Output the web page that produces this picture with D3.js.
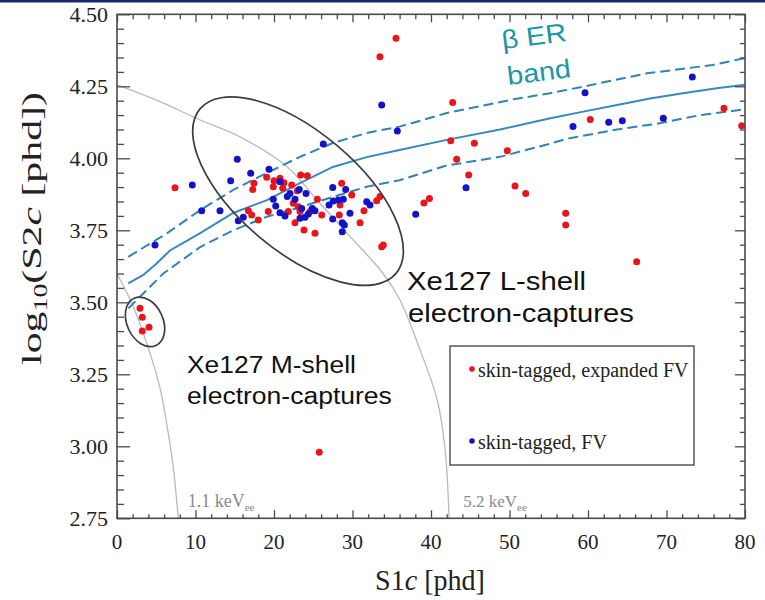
<!DOCTYPE html>
<html><head><meta charset="utf-8">
<script src="https://cdn.jsdelivr.net/npm/d3@7"></script>
<style>body{margin:0;background:#fff}</style>
</head><body>
<svg id="chart" width="765" height="600"></svg>
<script>
// ---------- data ----------
const xTicks = [0, 10, 20, 30, 40, 50, 60, 70, 80];
const yTicks = [2.75, 3.00, 3.25, 3.50, 3.75, 4.00, 4.25, 4.50];
const legendLabels = ["skin-tagged, expanded FV", "skin-tagged, FV"];

// [S1c, log10(S2c)]
const redPoints = [
  [35.54,4.417],[33.50,4.353],[42.76,4.194],[42.51,4.061],[45.52,4.052],[43.27,3.997],
  [49.72,4.026],[44.80,3.942],[50.70,3.904],[52.06,3.878],[39.1,3.845],[39.8,3.860],
  [60.29,4.135],[77.32,4.174],[79.58,4.113],[57.16,3.809],[57.16,3.768],[66.20,3.641],
  [25.77,2.979],[7.39,3.898],
  [2.93,3.479],[3.22,3.448],[4.08,3.413],[3.22,3.400],
  [17.45,3.913],[17.29,3.892],[19.07,3.934],[20.0,3.922],[19.91,3.901],[20.76,3.931],
  [21.27,3.915],[22.25,3.907],[21.11,3.896],[23.40,3.942],[24.24,3.939],[22.97,3.887],
  [22.46,3.844],[23.10,3.832],[23.31,3.815],[22.68,3.776],[23.82,3.751],[25.22,3.740],
  [25.52,3.858],[26.08,3.803],[24.59,3.815],[28.62,3.913],[28.41,3.838],[28.32,3.803],
  [29.90,3.873],[30.96,3.776],[31.46,3.818],[33.08,3.853],[33.50,3.867],[33.72,3.693],
  [33.92,3.699],[16.73,3.818],[17.16,3.803],[18.0,3.786],[19.27,3.815],[21.82,3.815]
];
const bluePoints = [
  [33.72,4.185],[35.71,4.095],[26.28,4.050],[15.32,3.997],[9.59,3.907],[17.03,3.948],
  [19.36,3.962],[14.48,3.922],[20.76,3.919],[10.79,3.818],[13.12,3.818],[16.09,3.795],
  [15.45,3.783],[19.91,3.858],[20.22,3.834],[20.76,3.811],[21.40,3.800],[21.69,3.867],
  [22.04,3.878],[22.68,3.858],[23.22,3.892],[24.08,3.878],[23.53,3.826],[23.31,3.792],
  [23.95,3.795],[24.37,3.807],[24.88,3.826],[25.22,3.818],[27.48,3.899],[29.13,3.892],
  [27.01,3.838],[27.55,3.852],[28.19,3.855],[28.83,3.858],[27.48,3.789],[29.68,3.809],
  [28.70,3.776],[28.96,3.768],[28.70,3.745],[31.81,3.849],[32.23,3.838],[38.05,3.806],
  [4.84,3.699],[44.46,3.898],[59.62,4.228],[58.09,4.110],[62.64,4.125],[64.37,4.130],
  [69.59,4.139],[73.29,4.282]
];

// beta ER band: median and upper/lower lines
const erMedian = [
  [1.44,3.566],[3.35,3.595],[5.05,3.635],[6.75,3.68],[10.6,3.74],[14.8,3.81],[19.1,3.855],
  [23.3,3.914],[27.5,3.97],[31.8,4.004],[36,4.029],[42,4.064],[48.8,4.10],[55.2,4.139],
  [59.4,4.162],[63.7,4.185],[67.9,4.208],[72.1,4.226],[76.4,4.243],[80,4.255]
];
const erUpper = [
  [1.44,3.658],[6.4,3.74],[10.6,3.82],[14.8,3.89],[19.1,3.949],[23.3,4.005],[27.5,4.053],
  [31.8,4.088],[36,4.11],[42,4.157],[50.5,4.205],[55.2,4.226],[59.4,4.249],[67.5,4.295],
  [75.9,4.324],[80,4.348]
];
const erLower = [
  [1.44,3.479],[3.8,3.543],[5.9,3.60],[10.6,3.692],[14.8,3.75],[19.1,3.797],[23.3,3.83],
  [27.5,3.866],[31.8,3.901],[36,3.924],[42,3.975],[48.8,4.005],[55.2,4.051],[57.3,4.068],
  [63.7,4.1],[68.75,4.12],[74.3,4.15],[80,4.17]
];

// constant-energy contours
const contour11 = [[0,3.60],[2,3.49],[4,3.34],[5.5,3.20],[6.5,3.05],[7.2,2.92],[7.8,2.75]];
const contour52 = [
  [0,4.255],[5.2,4.20],[10.6,4.133],[15.7,4.074],[21.7,3.97],[25.5,3.855],[29.3,3.74],
  [33.9,3.60],[36.05,3.508],[38.6,3.335],[40.8,3.16],[41.8,2.987],[42.3,2.75]
];
const contourLabels = [["1.1 keV", "ee", 9.0, 2.79], ["5.2 keV", "ee", 44.1, 2.79]];

// annotation ellipse centres (data units)
const lShellCenter = [23.06, 3.886];
const mShellCenter = [3.57, 3.432];

// ---------- drawing ----------
const svg = d3.select("#chart");
const M = {l:117, r:745, t:14.3, b:518.3};
const x = d3.scaleLinear().domain([0, 80]).range([M.l, M.r]);
const y = d3.scaleLinear().domain([2.75, 4.5]).range([M.b, M.t]);
const serif = "'Liberation Serif','Times New Roman',serif";
const sans = "'Liberation Sans',Arial,sans-serif";
const axisCol = "#4a4a4a";

svg.append("rect").attr("x",0).attr("y",0).attr("width",765).attr("height",2.5).attr("fill","#1d2a70");

svg.append("defs").append("clipPath").attr("id","plotclip")
  .append("rect").attr("x",M.l).attr("y",M.t).attr("width",M.r-M.l).attr("height",M.b-M.t);

const plot = svg.append("g").attr("clip-path","url(#plotclip)");
const line = d3.line().x(d=>x(d[0])).y(d=>y(d[1]));

// contours
[contour11, contour52].forEach(c => {
  plot.append("path").attr("d", d3.line().x(d=>x(d[0])).y(d=>y(d[1])).curve(d3.curveCatmullRom)(c))
    .attr("fill","none").attr("stroke","#b9b9b9").attr("stroke-width",1.3);
});

// ER band
const erCol = "#3a88bc";
plot.append("path").attr("d", line(erMedian)).attr("fill","none").attr("stroke",erCol).attr("stroke-width",2);
[erUpper, erLower].forEach(c => {
  plot.append("path").attr("d", line(c)).attr("fill","none").attr("stroke","#3382b4")
    .attr("stroke-width",2).attr("stroke-dasharray","10,5");
});

// points
plot.selectAll("circle.red").data(redPoints).join("circle").attr("class","red")
  .attr("cx",d=>x(d[0])).attr("cy",d=>y(d[1])).attr("r",3.5).attr("fill","#e8161c");
plot.selectAll("circle.blue").data(bluePoints).join("circle").attr("class","blue")
  .attr("cx",d=>x(d[0])).attr("cy",d=>y(d[1])).attr("r",3.5).attr("fill","#1212c8");

// ellipses
svg.append("ellipse").attr("cx",0).attr("cy",0).attr("rx",128).attr("ry",60)
  .attr("transform",`translate(${x(lShellCenter[0])},${y(lShellCenter[1])}) rotate(40)`)
  .attr("fill","none").attr("stroke","#3d3d3d").attr("stroke-width",1.7);
svg.append("ellipse").attr("cx",0).attr("cy",0).attr("rx",18).attr("ry",26)
  .attr("transform",`translate(${x(mShellCenter[0])},${y(mShellCenter[1])}) rotate(-25)`)
  .attr("fill","none").attr("stroke","#3d3d3d").attr("stroke-width",1.7);

// axes ticks
function ticks(axisFn, scale, vals, len, tx, ty) {
  const g = svg.append("g").attr("transform",`translate(${tx},${ty})`)
    .call(axisFn(scale).tickValues(vals).tickSize(len).tickFormat(""));
  g.select(".domain").remove();
  g.selectAll("line").attr("stroke",axisCol).attr("stroke-width",1.3);
}
const xMinor = d3.range(0, 81, 2).filter(v => v % 10 !== 0);
const yMinor = d3.range(275, 451, 5).map(v => v/100).filter(v => Math.round(v*100) % 25 !== 0);
ticks(d3.axisBottom, x, xTicks, -8, 0, M.b);
ticks(d3.axisBottom, x, xMinor, -4, 0, M.b);
ticks(d3.axisTop, x, xTicks, -8, 0, M.t);
ticks(d3.axisTop, x, xMinor, -5, 0, M.t);
ticks(d3.axisLeft, y, yTicks, -13, M.l, 0);
ticks(d3.axisLeft, y, yMinor, -7, M.l, 0);
ticks(d3.axisRight, y, yTicks, -10, M.r, 0);
ticks(d3.axisRight, y, yMinor, -5, M.r, 0);

svg.append("rect").attr("x",M.l).attr("y",M.t).attr("width",M.r-M.l).attr("height",M.b-M.t)
  .attr("fill","none").attr("stroke",axisCol).attr("stroke-width",1.6);

// tick labels
svg.append("g").selectAll("text").data(xTicks).join("text")
  .attr("x",d=>x(d)).attr("y",549).attr("text-anchor","middle")
  .attr("font-family",serif).attr("font-size",21).attr("fill","#222").text(d=>d);
svg.append("g").selectAll("text").data(yTicks).join("text")
  .attr("x",108).attr("y",d=>y(d)).attr("dy","0.34em").attr("text-anchor","end")
  .attr("font-family",serif).attr("font-size",22).attr("fill","#222").text(d=>d.toFixed(2));

// fit helper: place text with horizontal stretch to a target width
function fitText(g, target, tx, ty, rot) {
  const w = g.node().getBBox().width;
  g.attr("transform",`translate(${tx},${ty}) rotate(${rot||0}) scale(${target/w},1)`);
}

// axis labels
const xl = svg.append("text").attr("text-anchor","middle").attr("font-family",serif)
  .attr("font-size",29).attr("fill","#222");
xl.append("tspan").text("S1");
xl.append("tspan").attr("font-style","italic").text("c");
xl.append("tspan").text(" [phd]");
fitText(xl, 110, 430, 590, 0);

const yl = svg.append("text").attr("text-anchor","middle").attr("font-family",serif)
  .attr("font-size",27).attr("fill","#222");
yl.append("tspan").text("log");
yl.append("tspan").attr("font-size",18).attr("dy",6).text("10");
yl.append("tspan").attr("dy",-6).text("(S2");
yl.append("tspan").attr("font-style","italic").text("c");
yl.append("tspan").text(" [phd])");
fitText(yl, 273, 41, 228.5, -90);

// contour labels
contourLabels.forEach((c, i) => {
  const t = svg.append("text").attr("x",x(c[2])).attr("y",y(c[3]))
    .attr("font-family",serif).attr("font-size", i === 0 ? 18 : 17).attr("fill","#8a8a8a");
  t.append("tspan").text(c[0]);
  t.append("tspan").attr("font-size",11).attr("dy",4).text(c[1]);
});

// annotations
function annot(str, size, target, tx, ty, col, rot, anchor) {
  const t = svg.append("text").attr("font-family",sans).attr("font-size",size)
    .attr("fill",col).attr("text-anchor",anchor||"start").text(str);
  fitText(t, target, tx, ty, rot);
}
annot("Xe127 L-shell", 26, 179, 407, 290, "#111");
annot("electron-captures", 26, 226, 408, 322, "#111");
annot("Xe127 M-shell", 24, 169, 187, 373, "#111");
annot("electron-captures", 24, 205, 187, 404, "#111");
annot("\u03b2 ER", 26, 65, 535, 45, "#1b96a8", -7, "middle");
annot("band", 26, 64, 540, 81, "#1b96a8", -7, "middle");

// legend
svg.append("rect").attr("x",450).attr("y",346).attr("width",244).attr("height",119)
  .attr("fill","#fff").attr("stroke","#555").attr("stroke-width",1.5);
const legCols = ["#e8161c","#1212c8"];
const legY = [372, 444];
legendLabels.forEach((l, i) => {
  svg.append("circle").attr("cx",472).attr("cy",legY[i]-3).attr("r",2.8).attr("fill",legCols[i]);
  svg.append("text").attr("x",478).attr("y",legY[i]+4.5).attr("font-family",serif)
    .attr("font-size",20).attr("fill","#222").text(l);
});
</script>
</body></html>
